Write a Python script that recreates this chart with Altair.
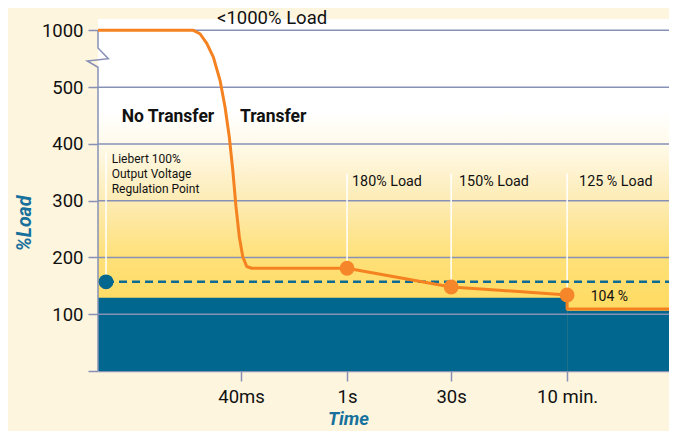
import altair as alt
import pandas as pd

# ---------------- data ----------------
x_ticks = [1.37, 2.386, 3.383, 4.494]
x_tick_labels = ["40ms", "1s", "30s", "10 min."]
y_ticks = [0, 100, 200, 300, 400, 500, 600]
y_tick_labels = ["", "100", "200", "300", "400", "500", "1000"]
grid_values = [100, 200, 300, 400, 500, 600]

curve_x = [0, 0.786, 0.913, 0.977, 1.042, 1.105, 1.169, 1.217, 1.258, 1.291,
           1.322, 1.354, 1.387, 1.425, 1.473, 2.386, 3.383, 4.494, 4.494, 5.47]
curve_y = [600, 600, 600, 594, 577, 553, 512, 465, 412, 354,
           289, 236, 201, 184, 181, 181, 148, 134, 109, 109]

dot_x = [2.386, 3.383, 4.494]
dot_y = [181, 148, 134]

regulation_x = 0.077
regulation_y = 157

blue_x0 = [0, 4.494]
blue_x1 = [4.494, 5.47]
blue_top = [129, 106]

guide_x = [0.077, 2.386, 3.383, 4.494]
guide_top = [384, 348, 348, 348]
guide_bottom = [157, 181, 148, 134]

break_x = [0, 0, 0.099, -0.103, 0, 0]
break_y = [600, 569, 550, 546, 535, 0]

X_MAX = 5.47
Y_MAX = 620

FONT = "Roboto"
GRID = "#8791B5"
ORANGE = "#F58220"
BLUE = "#02678F"
TITLE_BLUE = "#17719C"


def expr_from(values, labels):
    e = "''"
    for v, l in zip(reversed(values), reversed(labels)):
        e = f"datum.value == {v} ? '{l}' : ({e})"
    return e


xs = alt.Scale(domain=[0, X_MAX], nice=False, zero=False)
ys = alt.Scale(domain=[0, Y_MAX], nice=False, zero=False)

x_axis = alt.Axis(values=x_ticks, labelExpr=expr_from(x_ticks, x_tick_labels),
                  grid=False, domain=True, domainColor=GRID, domainWidth=1.5,
                  tickColor=GRID, tickWidth=1.5, tickSize=10,
                  labelFont=FONT, labelFontSize=18.5, labelColor="#111111",
                  labelPadding=6, title="Time", titleFont=FONT,
                  titleFontSize=18.5, titleFontStyle="italic", titleFontWeight="bold",
                  titleColor=TITLE_BLUE, titleX=250, titleY=47,
                  titleBaseline="middle", titleAlign="center")
y_axis = alt.Axis(values=y_ticks, labelExpr=expr_from(y_ticks, y_tick_labels),
                  grid=False, domain=False, tickColor=GRID, tickWidth=1.5,
                  tickSize=10, labelFont=FONT, labelFontSize=18.5,
                  labelColor="#111111", labelPadding=5, title="%Load",
                  titleFont=FONT, titleFontSize=19.5, titleFontStyle="italic",
                  titleFontWeight="bold", titleColor=TITLE_BLUE,
                  titleX=-74, titleY=204, titleAngle=-90,
                  titleBaseline="middle", titleAlign="center")


def X(field):
    return alt.X(field, type="quantitative", scale=xs, axis=x_axis)


def Y(field):
    return alt.Y(field, type="quantitative", scale=ys, axis=y_axis)


frame = pd.DataFrame({"x0": [0], "x1": [X_MAX], "y0": [0], "y1": [Y_MAX]})
gradient = alt.Gradient(
    gradient="linear", x1=0, x2=0, y1=0, y2=1,
    stops=[alt.GradientStop(color="#FFFFFF", offset=0),
           alt.GradientStop(color="#FFFFFF", offset=0.26),
           alt.GradientStop(color="#FFFAEA", offset=0.355),
           alt.GradientStop(color="#FDEBB3", offset=0.52),
           alt.GradientStop(color="#FFE17A", offset=0.673),
           alt.GradientStop(color="#FFDC66", offset=0.79),
           alt.GradientStop(color="#FFDC66", offset=1)])
bg = alt.Chart(frame).mark_rect(color=gradient).encode(
    x=X("x0"), x2="x1", y=Y("y0"), y2="y1")

blue_df = pd.DataFrame({"x0": blue_x0, "x1": blue_x1, "top": blue_top,
                        "bottom": [0] * len(blue_x0)})
blue = alt.Chart(blue_df).mark_rect(color=BLUE).encode(
    x=X("x0"), x2="x1", y=Y("bottom"), y2="top")

grid = alt.Chart(pd.DataFrame({"g": grid_values})).mark_rule(
    color=GRID, strokeWidth=1.5).encode(y=Y("g"))

guide_df = pd.DataFrame({"x": guide_x, "top": guide_top, "bottom": guide_bottom})
guides = alt.Chart(guide_df).mark_rule(color="white", strokeWidth=1.5).encode(
    x=X("x"), y=Y("bottom"), y2="top")

dash_df = pd.DataFrame({"x0": [regulation_x], "x1": [X_MAX], "y": [regulation_y]})
dashed = alt.Chart(dash_df).mark_rule(
    color="#0D6A94", strokeWidth=2.5, strokeDash=[8, 5]).encode(
    x=X("x0"), x2="x1", y=Y("y"))

break_df = pd.DataFrame({"x": break_x, "y": break_y, "i": range(len(break_x))})
axis_line = alt.Chart(break_df).mark_line(
    color=GRID, strokeWidth=1.5, clip=False).encode(
    x=X("x"), y=Y("y"), order="i:Q")

curve_df = pd.DataFrame({"x": curve_x, "y": curve_y, "i": range(len(curve_x))})
curve = alt.Chart(curve_df).mark_line(
    color=ORANGE, strokeWidth=3, strokeJoin="round").encode(
    x=X("x"), y=Y("y"), order="i:Q")

dots = alt.Chart(pd.DataFrame({"x": dot_x, "y": dot_y})).mark_circle(
    color="#F5862A", opacity=1, size=220).encode(x=X("x"), y=Y("y"))

reg_dot = alt.Chart(pd.DataFrame({"x": [regulation_x], "y": [regulation_y]})).mark_circle(
    color=BLUE, opacity=1, size=220).encode(x=X("x"), y=Y("y"))


def label(text, x, y, size, weight="normal", baseline="middle", **kw):
    df = pd.DataFrame({"x": [x], "y": [y], "t": [text]})
    return alt.Chart(df).mark_text(
        font=FONT, fontSize=size, fontWeight=weight, align="left",
        baseline=baseline, color="#111111", **kw).encode(
        x=X("x"), y=Y("y"), text="t:N")


texts = [
    label("<1000% Load", 1.14, 621, 18.5),
    label("No Transfer", 0.227, 447, 17.5, "bold"),
    label("Transfer", 1.36, 447, 17.5, "bold"),
    label("Liebert 100%\nOutput Voltage\nRegulation Point", 0.131, 382, 12,
          baseline="top", lineBreak="\n", lineHeight=14.7),
    label("180% Load", 2.434, 333, 14.3),
    label("150% Load", 3.459, 333, 14.3),
    label("125 % Load", 4.609, 333, 14.3),
    label("104 %", 4.72, 130, 14),
]

chart = alt.layer(bg, blue, grid, guides, dashed, axis_line, curve, dots, reg_dot,
                  *texts).properties(
    width=571, height=352,
    autosize=alt.AutoSizeParams(type="none"),
    padding={"left": 90, "top": 11, "right": 0, "bottom": 60},
).configure(background="#FEF5DF").configure_view(stroke=None)

chart.save("out.html", embed_options={"renderer": "svg", "actions": False})
